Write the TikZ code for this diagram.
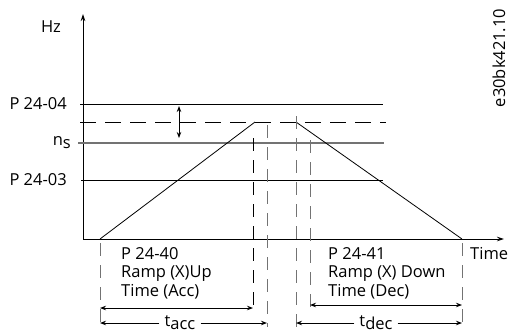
\documentclass[tikz,border=0pt]{standalone}
\usepackage{fontspec}
\setmainfont{Open Sans}
\usetikzlibrary{arrows.meta}
\begin{document}
\begin{tikzpicture}[x=1pt,y=-1pt,
  lbl/.style={font=\fontsize{16.5}{18.5}\selectfont, inner sep=0pt},
  blk/.style={lbl, align=left, anchor=north west},
  axis/.style={line width=0.9pt, -{Stealth[length=7pt,width=4.5pt]}},
  ln/.style={line width=0.9pt},
  gln/.style={line width=1.5pt, black!55},
  hdash/.style={line width=1pt, dash pattern=on 16pt off 9pt},
  vdash/.style={line width=1pt, black!55, dash pattern=on 13pt off 9pt},
  vdashb/.style={line width=1pt, dash pattern=on 13pt off 9pt},
  dim/.style={line width=0.9pt, {Stealth[length=6pt,width=4.5pt]}-{Stealth[length=6pt,width=4.5pt]}},
  half/.style={line width=0.9pt, -{Stealth[length=6pt,width=4.5pt]}}]
\useasboundingbox (0,0) rectangle (511,333);
% axes
\coordinate (O) at (83,239);
\coordinate (ytop) at (83,14);
\coordinate (xend) at (504,239);
\draw[axis] (O) -- (ytop);
\draw[axis] (O) -- (xend);
% horizontal levels
\coordinate (p04a) at (80,104); \coordinate (p04b) at (383,104);
\coordinate (dsa) at (80,122);  \coordinate (dsb) at (386,122);
\coordinate (nsa) at (78,143);  \coordinate (nsb) at (384,143);
\coordinate (p03a) at (81,180); \coordinate (p03b) at (383,180);
\draw[ln] (p04a) -- (p04b);
\draw[hdash] (dsa) -- (dsb);
\draw[gln] (nsa) -- (nsb);
\draw[ln] (p03a) -- (p03b);
% ramps
\coordinate (r0) at (100,239);
\coordinate (r1) at (255,122);
\coordinate (r2) at (296,122);
\coordinate (r3) at (462,239);
\draw[line width=0.8pt] (r0) -- (r1);
\draw[line width=0.8pt] (r2) -- (r3);
% tolerance arrow
\coordinate (ta) at (179,106); \coordinate (tb) at (179,138);
\draw[dim] (ta) -- (tb);
% vertical dashed lines
\coordinate (v1a) at (100,243); \coordinate (v1b) at (100,327);
\coordinate (v2a) at (253,138); \coordinate (v2b) at (253,312);
\coordinate (v3a) at (267,125); \coordinate (v3b) at (267,327);
\coordinate (v4a) at (296,116); \coordinate (v4b) at (296,327);
\coordinate (v5a) at (310,140); \coordinate (v5b) at (310,311);
\coordinate (v6a) at (462,243); \coordinate (v6b) at (462,327);
\draw[vdash] (v1a) -- (v1b);
\draw[vdashb] (v2a) -- (v2b);
\draw[vdash] (v3a) -- (v3b);
\draw[vdash] (v4a) -- (v4b);
\draw[vdash] (v5a) -- (v5b);
\draw[vdash] (v6a) -- (v6b);
% dimension arrows
\coordinate (a1) at (100,308); \coordinate (a2) at (253,308);
\draw[dim] (a1) -- (a2);
\coordinate (a3) at (100,323); \coordinate (a4) at (267,323);
\node[lbl, inner xsep=5pt] (tacc) at (180,323) {t\raisebox{-0.35ex}{acc}};
\draw[half] (tacc.west) -- (a3);
\draw[half] (tacc.east) -- (a4);
\coordinate (d1) at (310,305); \coordinate (d2) at (462,305);
\draw[dim] (d1) -- (d2);
\coordinate (d3) at (296,323); \coordinate (d4) at (462,323);
\node[lbl, inner xsep=5pt] (tdec) at (376,323) {t\raisebox{-0.35ex}{dec}};
\draw[half] (tdec.west) -- (d3);
\draw[half] (tdec.east) -- (d4);
% labels
\node[lbl, anchor=base] (hz) at (51,32) {Hz};
\node[lbl, anchor=base east] (l04) at (67,109) {P 24-04};
\node[lbl, anchor=base east] (lns) at (71,145) {n\raisebox{-0.35ex}{s}};
\node[lbl, anchor=base east] (l03) at (67,185) {P 24-03};
\node[lbl, anchor=base west] (time) at (470,259) {Time};
\node[blk] (acc) at (121,247) {P 24-40\\Ramp (X)Up\\Time (Acc)};
\node[blk] (dec) at (328,247) {P 24-41\\Ramp (X) Down\\Time (Dec)};
\node[lbl, rotate=90, anchor=base] (code) at (505,58) {e30bk421.10};
\end{tikzpicture}
\end{document}
